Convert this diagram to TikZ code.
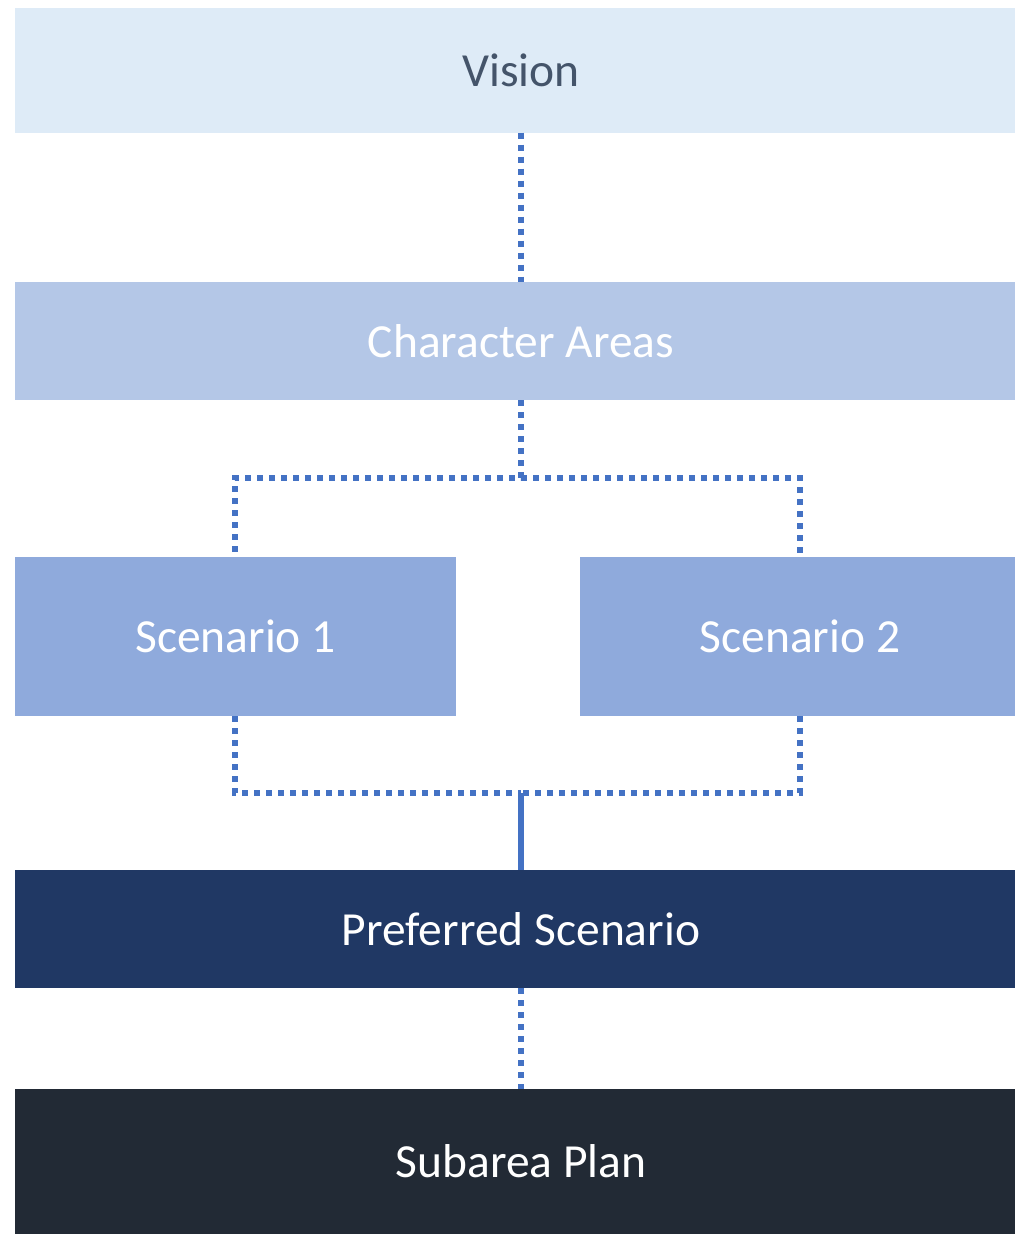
\documentclass[tikz,border=0pt]{standalone}
\usepackage{fontspec}
\setmainfont{Carlito}
\definecolor{visfill}{HTML}{DEEBF7}
\definecolor{vistext}{HTML}{44546A}
\definecolor{charfill}{HTML}{B4C7E7}
\definecolor{scenfill}{HTML}{8FAADC}
\definecolor{preffill}{HTML}{203864}
\definecolor{subfill}{HTML}{222A35}
\definecolor{linkblue}{HTML}{4472C4}
\begin{document}
\begin{tikzpicture}[x=1pt,y=-1pt,
  boxstyle/.style={draw=none,inner sep=0pt,font=\fontsize{47.5}{57}\selectfont,text=white},
  linkstyle/.style={draw=linkblue,line width=5.5pt,dash pattern=on 6pt off 6pt}]
\useasboundingbox (0,0) rectangle (1015,1235);
\node[boxstyle,fill=visfill,text=vistext,minimum width=1012pt,minimum height=125pt] (vision) at (521,70) {Vision};
\node[boxstyle,fill=charfill,minimum width=1012pt,minimum height=118pt] (char) at (521,341) {Character Areas};
\node[boxstyle,fill=scenfill,minimum width=441pt,minimum height=159pt] (s1) at (235.5,636.5) {Scenario 1};
\node[boxstyle,fill=scenfill,minimum width=440pt,minimum height=159pt] (s2) at (800,636.5) {Scenario 2};
\node[boxstyle,fill=preffill,minimum width=1012pt,minimum height=118pt] (pref) at (521,929) {Preferred Scenario};
\node[boxstyle,fill=subfill,minimum width=1012pt,minimum height=145pt] (sub) at (521,1161.5) {Subarea Plan};
\coordinate (topjoin) at (521,478);
\coordinate (botjoin) at (521,793);
\draw[linkstyle] (vision.south) -- (char.north);
\draw[linkstyle] (char.south) -- (topjoin) -| (s1.north -| 235,0);
\draw[linkstyle] (topjoin) -| (s2.north);
\draw[linkstyle] (s1.south -| 235,0) |- (botjoin);
\draw[linkstyle] (s2.south) |- (botjoin);
\draw[linkstyle] (botjoin) -- (pref.north);
\draw[linkstyle,dash phase=6pt] (botjoin) -- (pref.north);
\draw[linkstyle] (pref.south) -- (sub.north);
\end{tikzpicture}
\end{document}
